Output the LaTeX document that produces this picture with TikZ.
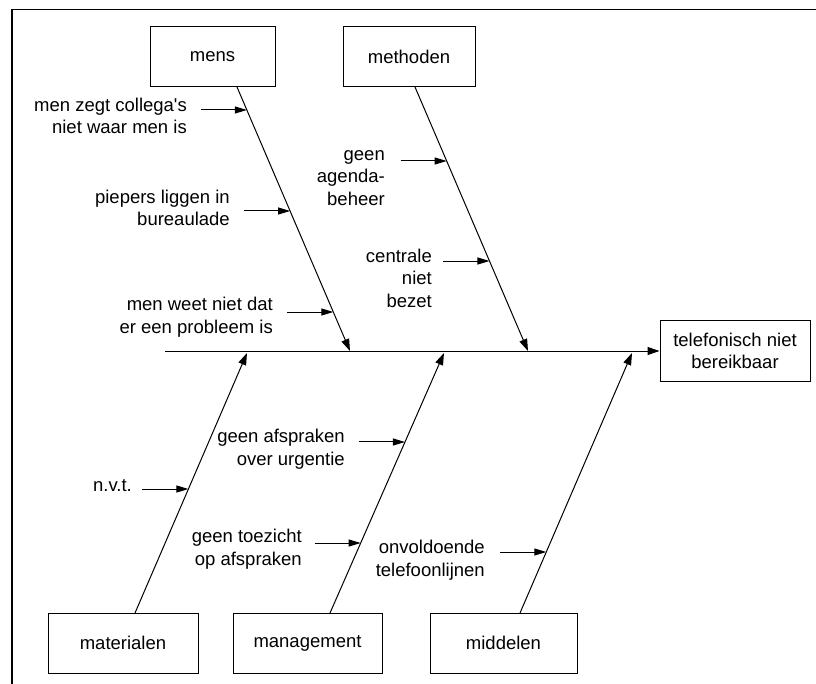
\documentclass[tikz,border=0pt]{standalone}
\usepackage{fontspec}
\setmainfont{Liberation Sans}
\usetikzlibrary{arrows.meta,calc}

\tikzset{
  box/.style={draw, line width=1pt, minimum height=60pt, inner sep=0pt,
              align=center, font=\fontsize{18.5}{22.5}\selectfont},
  lbl/.style={inner sep=0pt, align=right, anchor=east,
              font=\fontsize{18.5}{22.5}\selectfont},
  bone/.style={line width=1pt, -{Triangle[length=12pt,width=8pt]}},
  sub/.style={line width=1pt, -{Triangle[length=12pt,width=7pt]}},
  frame/.style={line width=1.6pt}
}

\begin{document}
\begin{tikzpicture}[x=1pt,y=-1pt]
\useasboundingbox (0,0) rectangle (816,684);

% open frame (left and top edges)
\draw[frame] (12,684) -- (12,9.5) -- (816,9.5);

% cause boxes
\node[box, minimum width=125pt] (mens)      at (212.5,57)  {mens};
\node[box, minimum width=132pt] (methoden)  at (409,57)    {methoden};
\node[box, minimum width=150pt] (materialen) at (123,643)  {materialen};
\node[box, minimum width=149pt] (management) at (307.5,643) {management};
\node[box, minimum width=147pt] (middelen)  at (503.5,643) {middelen};

% effect box
\node[box, minimum width=150pt] (effect) at (735,351) {telefonisch niet\\bereikbaar};

% spine
\coordinate (tail) at (165,351);
\draw[bone] (tail) -- (tail -| effect.west);

% bone start and end points
\coordinate (s1) at (237,87);   \coordinate (h1) at (350,351);
\coordinate (s2) at (415,87);   \coordinate (h2) at (528,351);
\coordinate (s3) at (135,613);  \coordinate (h3) at (247,353);
\coordinate (s4) at (330,613);  \coordinate (h4) at (444,353);
\coordinate (s5) at (520,613);  \coordinate (h5) at (632,353);

\draw[bone] (s1) -- (h1);
\draw[bone] (s2) -- (h2);
\draw[bone] (s3) -- (h3);
\draw[bone] (s4) -- (h4);
\draw[bone] (s5) -- (h5);

% points where the sub-causes meet the bones
\coordinate (p11) at ($(s1)!0.0871!(h1)$);
\coordinate (p12) at ($(s1)!0.4697!(h1)$);
\coordinate (p13) at ($(s1)!0.8523!(h1)$);
\coordinate (p21) at ($(s2)!0.2803!(h2)$);
\coordinate (p22) at ($(s2)!0.6591!(h2)$);
\coordinate (p31) at ($(s3)!0.4769!(h3)$);
\coordinate (p41) at ($(s4)!0.6577!(h4)$);
\coordinate (p42) at ($(s4)!0.2692!(h4)$);
\coordinate (p51) at ($(s5)!0.2346!(h5)$);

% sub-cause arrows
\foreach \p in {p11,p12,p13,p21,p22,p31,p41,p42,p51}{
  \coordinate (\p a) at ($(\p)+(-46,0)$);
  \draw[sub] (\p a) -- (\p);
}

% sub-cause labels
\node[lbl] (l11) at (187,116) {men zegt collega\textquotesingle s\\niet waar men is};
\node[lbl] (l12) at (230,208) {piepers liggen in\\bureaulade};
\node[lbl] (l13) at (273,317) {men weet niet dat\\er een probleem is};
\node[lbl] (l21) at (385,178) {geen\\agenda-\\beheer};
\node[lbl] (l22) at (432,278) {centrale\\niet\\bezet};
\node[lbl] (l31) at (132,486) {n.v.t.};
\node[lbl] (l41) at (345,449) {geen afspraken\\over urgentie};
\node[lbl] (l42) at (302,549) {geen toezicht\\op afspraken};
\node[lbl] (l51) at (485,560) {onvoldoende\\telefoonlijnen};
\end{tikzpicture}
\end{document}
